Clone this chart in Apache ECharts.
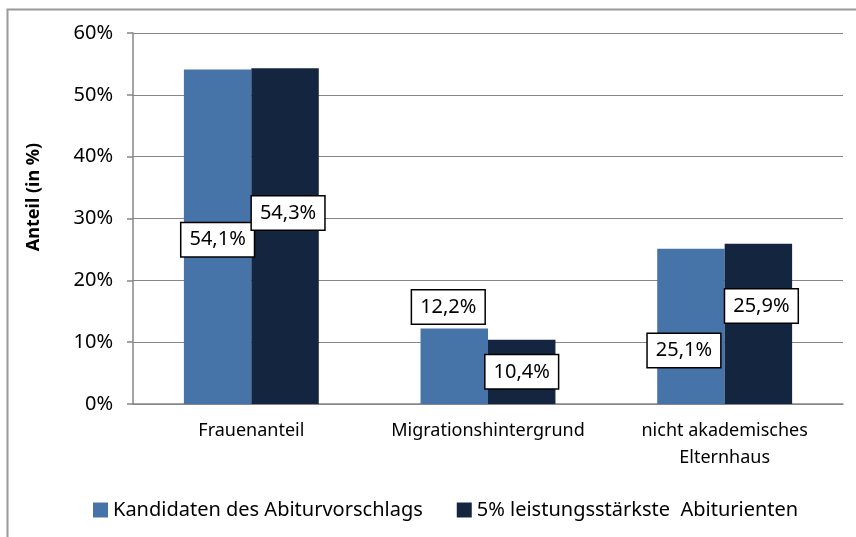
<!DOCTYPE html>
<html>
<head>
<meta charset="utf-8">
<script src="https://cdn.jsdelivr.net/npm/echarts@6/dist/echarts.min.js"></script>
<style>
  html, body { margin: 0; padding: 0; background: #fff; }
  #chart { width: 856px; height: 537px; }
</style>
</head>
<body>
<div id="chart"></div>
<script>
  // Kategorien und Werte (Anteil in %)
  var categories = ['Frauenanteil', 'Migrationshintergrund', 'nicht akademisches\nElternhaus'];
  var seriesNames = ['Kandidaten des Abiturvorschlags', '5% leistungsstärkste  Abiturienten'];
  var kandidaten = [54.1, 12.2, 25.1];
  var leistungsstarke = [54.3, 10.4, 25.9];
  var yTicks = [0, 10, 20, 30, 40, 50, 60];

  var font = 'Noto Sans';
  var axisGray = '#868686';

  // label placement like in the original (Excel moved the boxes by hand)
  var labelPos1 = [
    { position: 'inside', offset: [0, 3] },
    { position: 'top', distance: 5, offset: [-6, 0] },
    { position: 'inside', offset: [-7, 24] }
  ];
  var labelPos2 = [
    { position: 'inside', offset: [3, -23] },
    { position: 'inside', offset: [0, 0] },
    { position: 'inside', offset: [3, -18] }
  ];

  function fmt(v) {
    return v.toFixed(1).replace('.', ',') + '%';
  }

  var labelStyle = {
    show: true,
    color: '#000',
    fontFamily: font,
    fontSize: 20,
    backgroundColor: '#fff',
    borderColor: '#000',
    borderWidth: 1.5,
    padding: [7, 8, 6, 8],
    formatter: function (p) { return fmt(p.value); }
  };

  function buildData(values, pos) {
    return values.map(function (v, i) {
      return { value: v, label: pos[i] };
    });
  }

  var chart = echarts.init(document.getElementById('chart'));
  chart.setOption({
    animation: false,
    textStyle: { fontFamily: font },
    graphic: [
      {
        type: 'rect',
        shape: { x: 7.5, y: 9.5, width: 900, height: 600 },
        style: { fill: 'none', stroke: '#999', lineWidth: 2 }
      },
      {
        type: 'text',
        x: 34,
        y: 197,
        rotation: Math.PI / 2,
        style: {
          text: 'Anteil (in %)',
          fontFamily: font,
          fontSize: 18,
          fontWeight: 'bold',
          fill: '#000',
          align: 'center',
          verticalAlign: 'middle'
        }
      }
    ],
    legend: {
      left: 88,
      top: 495,
      itemWidth: 15,
      itemHeight: 15,
      itemGap: 34,
      icon: 'rect',
      textStyle: { fontFamily: font, fontSize: 20, color: '#000' },
      data: seriesNames
    },
    grid: {
      left: 133,
      right: 13,
      top: 33,
      bottom: 133
    },
    xAxis: {
      type: 'category',
      data: categories,
      axisLine: { lineStyle: { color: axisGray, width: 1.5 } },
      axisTick: { length: 6, lineStyle: { color: axisGray, width: 1.5 } },
      axisLabel: {
        interval: 0,
        color: '#000',
        fontFamily: font,
        fontSize: 18,
        lineHeight: 27,
        margin: 13
      }
    },
    yAxis: {
      type: 'value',
      min: 0,
      max: 60,
      interval: 10,
      axisLine: { show: true, lineStyle: { color: axisGray, width: 1.5 } },
      axisTick: { show: true, length: 6, lineStyle: { color: axisGray, width: 1.5 } },
      splitLine: { show: true, lineStyle: { color: axisGray, width: 1.2 } },
      axisLabel: {
        color: '#000',
        fontFamily: font,
        fontSize: 20,
        margin: 20,
        formatter: function (v) {
          return yTicks.indexOf(v) >= 0 ? v + '%' : '';
        }
      }
    },
    series: [
      {
        name: seriesNames[0],
        type: 'bar',
        barGap: '0%',
        barCategoryGap: '43%',
        itemStyle: { color: '#4673a8' },
        label: labelStyle,
        data: buildData(kandidaten, labelPos1)
      },
      {
        name: seriesNames[1],
        type: 'bar',
        barGap: '0%',
        barCategoryGap: '43%',
        itemStyle: { color: '#14263f' },
        label: labelStyle,
        data: buildData(leistungsstarke, labelPos2)
      }
    ]
  });
</script>
</body>
</html>
